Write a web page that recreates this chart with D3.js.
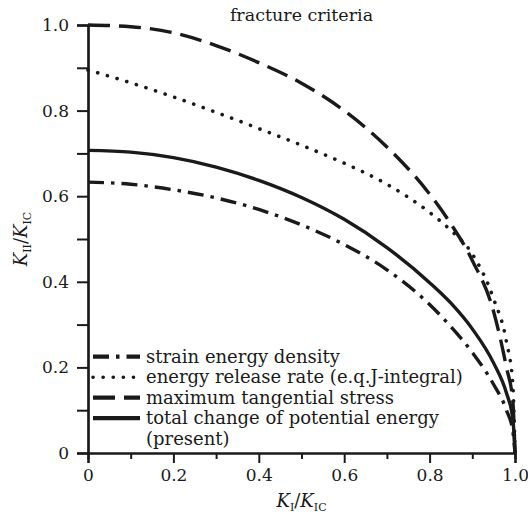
<!DOCTYPE html>
<html>
<head>
<meta charset="utf-8">
<script src="https://cdn.jsdelivr.net/npm/d3@7/dist/d3.min.js"></script>
<style>
  html, body { margin: 0; padding: 0; background: #fff; overflow: hidden; }
  #chart svg { display: block; }
  svg text { font-family: 'DejaVu Serif', serif; fill: #1a1a1a; }
</style>
</head>
<body>
<div id="chart"></div>
<script>
// K_I / K_IC sample points shared by all curves
const kI = [0, 0.1, 0.2, 0.3, 0.4, 0.5, 0.6, 0.7, 0.8, 0.85, 0.9, 0.95, 0.98, 0.995, 1.0];

// K_II / K_IC for each criterion
const strainEnergyDensity = [0.633, 0.628, 0.615, 0.596, 0.569, 0.533, 0.487, 0.428, 0.347, 0.295, 0.235, 0.16, 0.1, 0.05, 0];
const energyReleaseRate = [0.895, 0.865, 0.832, 0.796, 0.758, 0.719, 0.677, 0.628, 0.562, 0.52, 0.465, 0.36, 0.26, 0.16, 0];
const maxTangentialStress = [1.0, 0.996, 0.982, 0.952, 0.912, 0.864, 0.8, 0.715, 0.605, 0.535, 0.45, 0.33, 0.2, 0.12, 0];
const totalPotentialEnergy = [0.707, 0.703, 0.69, 0.668, 0.637, 0.597, 0.546, 0.48, 0.398, 0.35, 0.29, 0.21, 0.14, 0.08, 0];

const majorTicks = [0, 0.2, 0.4, 0.6, 0.8, 1.0];
const minorTicks = [0.1, 0.3, 0.5, 0.7, 0.9];
const tickLabels = ['0', '0.2', '0.4', '0.6', '0.8', '1.0'];

const seriesNames = [
  'strain energy density',
  'energy release rate (e.q.J-integral)',
  'maximum tangential stress',
  'total change of potential energy',
];

const width = 528;
const height = 518;
const margin = { top: 25, right: 13, bottom: 65, left: 88 };
const innerWidth = width - margin.left - margin.right;
const innerHeight = height - margin.top - margin.bottom;

const series = [
  { name: seriesNames[0], values: strainEnergyDensity, dash: '16 7 3.5 7', cap: 'butt' },
  { name: seriesNames[1], values: energyReleaseRate, dash: '0.1 10', cap: 'round' },
  { name: seriesNames[2], values: maxTangentialStress, dash: '22 9', cap: 'butt' },
  { name: seriesNames[3], values: totalPotentialEnergy, dash: null, cap: 'butt' },
];

const svg = d3.select('#chart')
  .append('svg')
  .attr('width', width)
  .attr('height', height);

const g = svg.append('g').attr('transform', `translate(${margin.left},${margin.top})`);

const x = d3.scaleLinear().domain([0, 1]).range([0, innerWidth]);
const y = d3.scaleLinear().domain([0, 1]).range([innerHeight, 0]);

// axes: major labelled ticks plus unlabelled minor ticks
const tickFmt = (v) => tickLabels[majorTicks.indexOf(v)];

const xMajor = d3.axisBottom(x).tickValues(majorTicks).tickFormat(tickFmt).tickSize(10).tickPadding(6);
const xMinor = d3.axisBottom(x).tickValues(minorTicks).tickFormat('').tickSize(6);
const yMajor = d3.axisLeft(y).tickValues(majorTicks).tickFormat(tickFmt).tickSize(11).tickPadding(8);
const yMinor = d3.axisLeft(y).tickValues(minorTicks).tickFormat('').tickSize(11);

function styleAxis(sel) {
  sel.selectAll('.domain').attr('stroke', '#1a1a1a').attr('stroke-width', 2.2);
  sel.selectAll('.tick line').attr('stroke', '#1a1a1a').attr('stroke-width', 2);
  sel.selectAll('.tick text')
    .style('font-family', "'DejaVu Serif', serif")
    .style('font-size', '17px')
    .attr('fill', '#1a1a1a');
}

g.append('g').attr('transform', `translate(0,${innerHeight})`).call(xMinor).call(styleAxis);
g.append('g').attr('transform', `translate(0,${innerHeight})`).call(xMajor).call(styleAxis);
g.append('g').call(yMinor).call(styleAxis);
g.append('g').call(yMajor).call(styleAxis);

// curves
const line = d3.line()
  .x((d) => x(d[0]))
  .y((d) => y(d[1]))
  .curve(d3.curveMonotoneX);

series.forEach((s) => {
  g.append('path')
    .datum(kI.map((k, i) => [k, s.values[i]]))
    .attr('fill', 'none')
    .attr('stroke', '#1a1a1a')
    .attr('stroke-width', s.cap === 'round' ? 3.6 : 3.4)
    .attr('stroke-linecap', s.cap)
    .attr('stroke-dasharray', s.dash)
    .attr('d', line);
});

// title
g.append('text')
  .attr('x', innerWidth / 2)
  .attr('y', -4)
  .attr('text-anchor', 'middle')
  .style('font-size', '17.5px')
  .text('fracture criteria');

// legend
const legend = g.append('g').attr('transform', `translate(5,${y(0.225)})`);
const rowH = 20.5;
const legendFont = '18px';
series.forEach((s, i) => {
  const row = legend.append('g').attr('transform', `translate(0,${i * rowH})`);
  row.append('line')
    .attr('x1', 0).attr('x2', 47)
    .attr('y1', 0).attr('y2', 0)
    .attr('stroke', '#1a1a1a')
    .attr('stroke-width', s.cap === 'round' ? 3.6 : 4.2)
    .attr('stroke-linecap', s.cap)
    .attr('stroke-dasharray', s.dash);
  row.append('text')
    .attr('x', 53)
    .attr('y', 6)
    .style('font-size', legendFont)
    .text(s.name);
});
legend.append('text')
  .attr('x', 53)
  .attr('y', 4 * rowH + 6)
  .style('font-size', legendFont)
  .text('(present)');

// axis titles
const xTitle = svg.append('text')
  .attr('x', margin.left + innerWidth / 2)
  .attr('y', 507)
  .attr('text-anchor', 'middle')
  .style('font-size', '18px');
xTitle.append('tspan').style('font-style', 'italic').text('K');
xTitle.append('tspan').attr('dy', 4).style('font-size', '11px').text('I');
xTitle.append('tspan').attr('dy', -4).text('/');
xTitle.append('tspan').style('font-style', 'italic').text('K');
xTitle.append('tspan').attr('dy', 4).style('font-size', '11px').text('IC');

const yTitle = svg.append('text')
  .attr('transform', `translate(27,${margin.top + innerHeight / 2}) rotate(-90)`)
  .attr('text-anchor', 'middle')
  .style('font-size', '18px');
yTitle.append('tspan').style('font-style', 'italic').text('K');
yTitle.append('tspan').attr('dy', 4).style('font-size', '11px').text('II');
yTitle.append('tspan').attr('dy', -4).text('/');
yTitle.append('tspan').style('font-style', 'italic').text('K');
yTitle.append('tspan').attr('dy', 4).style('font-size', '11px').text('IC');
</script>
</body>
</html>
